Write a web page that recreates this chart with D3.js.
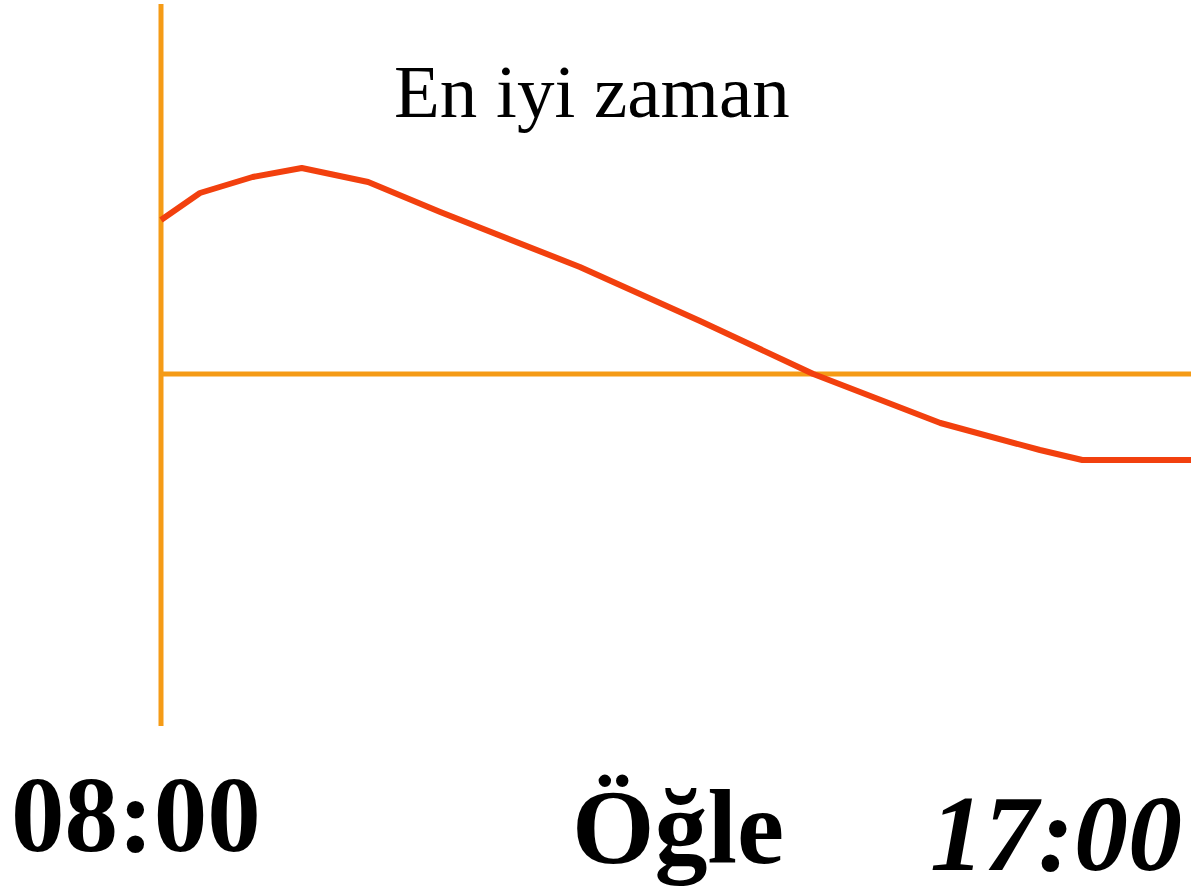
<!DOCTYPE html>
<html>
<head>
<meta charset="utf-8">
<script src="https://cdn.jsdelivr.net/npm/d3@7"></script>
<style>
  html, body { margin: 0; padding: 0; background: #fff; }
  svg { display: block; }
  text { font-family: "Liberation Serif", "Times New Roman", serif; fill: #000; }
</style>
</head>
<body>
<svg id="chart"></svg>
<script>
// time of day (hours) and a relative "performance" value
var hours  = [8.0, 8.34, 8.80, 9.23, 9.81, 10.44, 11.66, 12.71, 13.70, 14.81, 15.68, 16.05, 17.0];
var values = [77, 90.5, 98.5, 103, 96, 81, 53.5, 26.5, 0, -24.5, -38, -43, -43];

var yExtent = [-176, 185];          // length of the vertical axis
var title = "En iyi zaman";
var tickLabels = ["08:00", "Öğle", "17:00"];

var width = 1191, height = 893;

var svg = d3.select("#chart")
    .attr("width", width)
    .attr("height", height);

var x = d3.scaleLinear().domain([8, 17]).range([161, 1191]);
var y = d3.scaleLinear().domain([0, 100]).range([374, 174]);

// axes
svg.append("line")
    .attr("x1", x(8)).attr("x2", x(8))
    .attr("y1", y(yExtent[1])).attr("y2", y(yExtent[0]))
    .style("stroke", "#f59b16")
    .style("stroke-width", 5);

svg.append("line")
    .attr("x1", x(8)).attr("x2", x(17))
    .attr("y1", y(0)).attr("y2", y(0))
    .style("stroke", "#f59b16")
    .style("stroke-width", 5);

// curve
var line = d3.line()
    .x(function (d, i) { return x(hours[i]); })
    .y(function (d) { return y(d); });

svg.append("path")
    .datum(values)
    .attr("d", line)
    .style("fill", "none")
    .style("stroke", "#f2400e")
    .style("stroke-width", 6)
    .style("stroke-linejoin", "round");

// texts
svg.append("text")
    .attr("x", 394).attr("y", 117)
    .style("font-size", "75px")
    .text(title);

svg.append("text")
    .attr("x", 11).attr("y", 851)
    .style("font-size", "107px")
    .style("font-weight", "bold")
    .text(tickLabels[0]);

svg.append("text")
    .attr("x", 572).attr("y", 863)
    .style("font-size", "106px")
    .style("font-weight", "bold")
    .text(tickLabels[1]);

svg.append("text")
    .attr("x", 930).attr("y", 870)
    .style("font-size", "108px")
    .style("font-weight", "bold")
    .style("font-style", "italic")
    .text(tickLabels[2]);
</script>
</body>
</html>
